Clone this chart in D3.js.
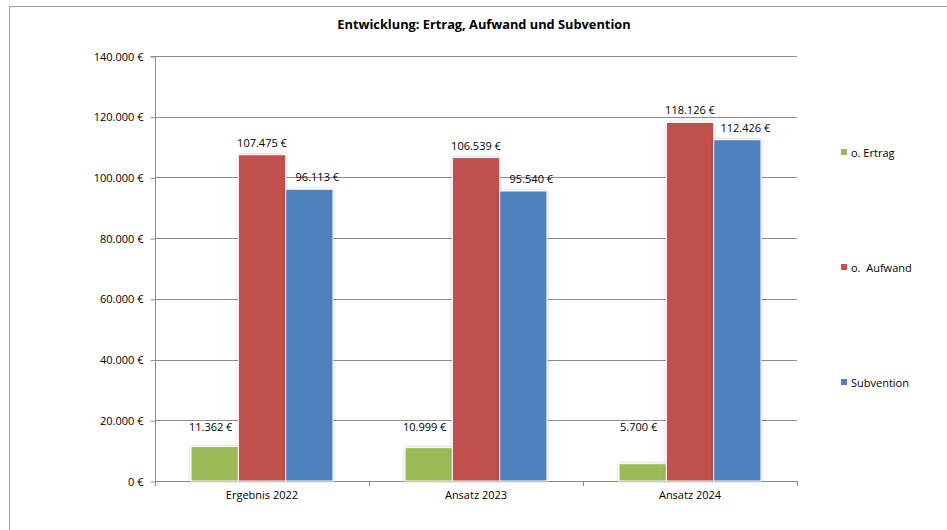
<!DOCTYPE html>
<html>
<head>
<meta charset="utf-8">
<script src="https://cdn.jsdelivr.net/npm/d3@7"></script>
<style>
  body { margin: 0; background: #fff; }
  text { font-family: "Open Sans", "Noto Sans", sans-serif; fill: #000; }
</style>
</head>
<body>
<svg id="chart" width="947" height="530"></svg>
<script>
// chart data
const categories = ["Ergebnis 2022", "Ansatz 2023", "Ansatz 2024"];
const seriesNames = ["o. Ertrag", "o.  Aufwand", "Subvention"];
const ertrag = [11362, 10999, 5700];
const aufwand = [107475, 106539, 118126];
const subvention = [96113, 95540, 112426];
const yTicks = [0, 20000, 40000, 60000, 80000, 100000, 120000, 140000];
const colors = ["#9bbb59", "#c0504d", "#4f81bd"];

const seriesValues = [ertrag, aufwand, subvention];

const svg = d3.select("#chart");

// outer frame
svg.append("rect")
  .attr("x", 9.5).attr("y", 6.5)
  .attr("width", 1000).attr("height", 600)
  .attr("fill", "none")
  .attr("stroke", "#a0a0a0");

// title
svg.append("text")
  .attr("x", 484).attr("y", 29)
  .attr("text-anchor", "middle")
  .style("font-size", "12.8px")
  .style("font-weight", "bold")
  .text("Entwicklung: Ertrag, Aufwand und Subvention");

const plotLeft = 155, plotRight = 797, plotTop = 56, plotBottom = 481;

const x = d3.scaleBand().domain(categories).range([plotLeft, plotRight]).paddingInner(0).paddingOuter(0);
const inner = d3.scaleBand().domain(d3.range(3)).range([36, x.bandwidth() - 36]);
const y = d3.scaleLinear().domain([0, 140000]).range([plotBottom, plotTop]);

const fmt = v => d3.format(",")(v).replace(/,/g, ".") + " €";

// gridlines
svg.append("g")
  .selectAll("line")
  .data(yTicks.filter(d => d > 0))
  .join("line")
  .attr("x1", plotLeft).attr("x2", plotRight)
  .attr("y1", d => Math.round(y(d)) + 0.5)
  .attr("y2", d => Math.round(y(d)) + 0.5)
  .attr("stroke", "#8c8c8c");

// y axis
const yAxis = svg.append("g")
  .attr("transform", `translate(${plotLeft + 0.5},0.5)`)
  .call(d3.axisLeft(y).tickValues(yTicks).tickSize(5).tickFormat(fmt));
yAxis.select(".domain").attr("stroke", "#8c8c8c").attr("d", `M-5,${plotTop}H0V${plotBottom}`);
yAxis.selectAll(".tick line").attr("stroke", "#8c8c8c");
yAxis.selectAll(".tick text").attr("x", -12).style("font-size", "11px").style("font-family", "'Open Sans', sans-serif");

// x axis
const xAxis = svg.append("g")
  .attr("transform", `translate(0,${plotBottom + 0.5})`)
  .call(d3.axisBottom(x).tickSize(0).tickFormat(d => d));
xAxis.select(".domain").attr("stroke", "#8c8c8c").attr("d", `M${plotLeft},0H${plotRight}`);
xAxis.selectAll(".tick text").attr("dy", "1.3em").style("font-size", "11px").style("font-family", "'Open Sans', sans-serif");
// category separator ticks
svg.append("g")
  .selectAll("line")
  .data(categories.map(c => x(c)).concat([plotRight]))
  .join("line")
  .attr("x1", d => Math.round(d) + 0.5).attr("x2", d => Math.round(d) + 0.5)
  .attr("y1", plotBottom).attr("y2", plotBottom + 5)
  .attr("stroke", "#8c8c8c");

// shadow filter
const defs = svg.append("defs");
const f = defs.append("filter").attr("id", "shadow").attr("x", "-20%").attr("y", "-20%").attr("width", "140%").attr("height", "140%");
f.append("feDropShadow").attr("dx", 0).attr("dy", 0).attr("stdDeviation", 1.5).attr("flood-color", "#000").attr("flood-opacity", 0.25);

// bars
const points = [];
seriesValues.forEach((vals, s) => {
  vals.forEach((v, i) => points.push({ s, cat: categories[i], v }));
});

svg.append("g")
  .selectAll("rect")
  .data(points)
  .join("rect")
  .attr("x", d => x(d.cat) + inner(d.s))
  .attr("y", d => y(d.v))
  .attr("width", inner.bandwidth())
  .attr("height", d => plotBottom - y(d.v))
  .attr("fill", d => colors[d.s])
  .attr("stroke", "#fff")
  .attr("stroke-width", 1)
  .attr("filter", "url(#shadow)");

// value labels (green nudged left, blue nudged right like the original)
const labelShift = [-4, 0, 8];
svg.append("g")
  .selectAll("text")
  .data(points)
  .join("text")
  .attr("x", d => x(d.cat) + inner(d.s) + inner.bandwidth() / 2 + labelShift[d.s])
  .attr("y", d => Math.min(y(d.v) - 8, y(16500)))
  .attr("text-anchor", "middle")
  .style("font-size", "11px")
  .text(d => fmt(d.v));

// legend
const legend = svg.append("g")
  .selectAll("g")
  .data(seriesNames)
  .join("g")
  .attr("transform", (d, i) => `translate(841,${153 + i * 115})`);
legend.append("rect")
  .attr("x", 0).attr("y", -4)
  .attr("width", 6).attr("height", 6)
  .attr("fill", (d, i) => colors[i]);
legend.append("text")
  .attr("x", 10).attr("y", 4)
  .style("font-size", "11px")
  .style("white-space", "pre")
  .attr("xml:space", "preserve")
  .text(d => d);
</script>
</body>
</html>
